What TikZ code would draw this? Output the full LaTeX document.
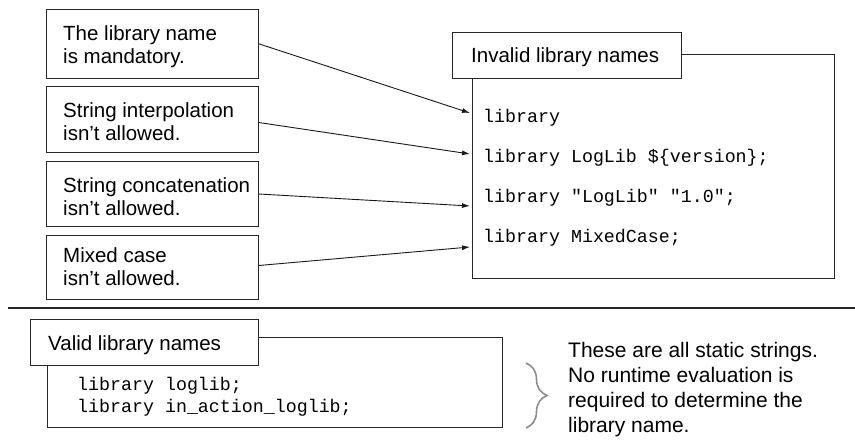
\documentclass[tikz,border=0pt]{standalone}
\usepackage{fontspec}
\setmainfont{Liberation Sans}
\setmonofont{Liberation Mono}
\usetikzlibrary{arrows.meta,decorations.pathreplacing}
\begin{document}
\begin{tikzpicture}[x=1pt,y=-1pt,
  every node/.style={inner sep=0pt},
  boxline/.style={draw=black!85, line width=1pt},
  notebox/.style={boxline, fill=white, anchor=north west, minimum width=212pt},
  notetext/.style={anchor=base west, align=left, font=\fontsize{20.5}{23}\selectfont},
  titlebox/.style={boxline, fill=white, anchor=north west},
  titletext/.style={anchor=base west, font=\fontsize{20.5}{23}\selectfont},
  codebox/.style={boxline, anchor=north west},
  code/.style={anchor=base west, font=\ttfamily\fontsize{18.3}{22}\selectfont},
  arr/.style={draw=black!90, line width=0.9pt, -{Latex[length=8pt,width=5pt]}},
  sep/.style={draw=black!85, line width=1.1pt},
  bracestyle/.style={draw=black!45, line width=1.6pt, decorate, decoration={brace, amplitude=21pt}}
]
\useasboundingbox (0,0) rectangle (855,445);

% ---------- invalid names box ----------
\node[codebox, minimum width=362pt, minimum height=224pt] (inv) at (472,54) {};
\node[titlebox, minimum width=229pt, minimum height=46pt] (invt) at (452,32) {};
\node[titletext] (invtt) at (471,62) {Invalid library names};

\node[code] (c1) at (483,122) {library};
\node[code] (c2) at (483,162) {library LogLib \$\{version\};};
\node[code] (c3) at (483,202) {library "LogLib" "1.0";};
\node[code] (c4) at (483,242) {library MixedCase;};

% ---------- notes ----------
\node[notebox, minimum height=69.5pt] (b1) at (45.7,8.5) {};
\node[notetext] (t1) at (63,63) {The library name\\is mandatory.};
\node[notebox, minimum height=66pt] (b2) at (45.7,86) {};
\node[notetext] (t2) at (63,140) {String interpolation\\isn’t allowed.};
\node[notebox, minimum height=65pt] (b3) at (45.7,161) {};
\node[notetext] (t3) at (63,215) {String concatenation\\isn’t allowed.};
\node[notebox, minimum height=64pt] (b4) at (45.7,235) {};
\node[notetext] (t4) at (63,285) {Mixed case\\isn’t allowed.};

\coordinate (e1) at (470,113);
\coordinate (e2) at (470,154);
\coordinate (e3) at (470,206);
\coordinate (e4) at (470,247);
\draw[arr] (b1.east) -- (e1);
\draw[arr] ([yshift=-3pt]b2.east) -- (e2);
\draw[arr] (b3.east) -- (e3);
\draw[arr] ([yshift=2pt]b4.east) -- (e4);

% ---------- separator ----------
\coordinate (s1) at (8,308);
\coordinate (s2) at (855,308);
\draw[sep] (s1) -- (s2);

% ---------- valid names ----------
\node[codebox, minimum width=455pt, minimum height=90pt] (val) at (47,337) {};
\node[titlebox, minimum width=228pt, minimum height=46pt] (valt) at (30,319) {};
\node[titletext] (valtt) at (48,350) {Valid library names};
\node[code] (v1) at (77,390) {library loglib;};
\node[code] (v2) at (77,412) {library in\_action\_loglib;};

\coordinate (bt) at (526,363);
\coordinate (bb) at (526,428);
\draw[bracestyle] (bt) -- (bb);

\node[anchor=north west, align=left, font=\fontsize{21}{25}\selectfont] (note) at (568,342)
  {These are all static strings.\\No runtime evaluation is\\required to determine the\\library name.};
\end{tikzpicture}
\end{document}
